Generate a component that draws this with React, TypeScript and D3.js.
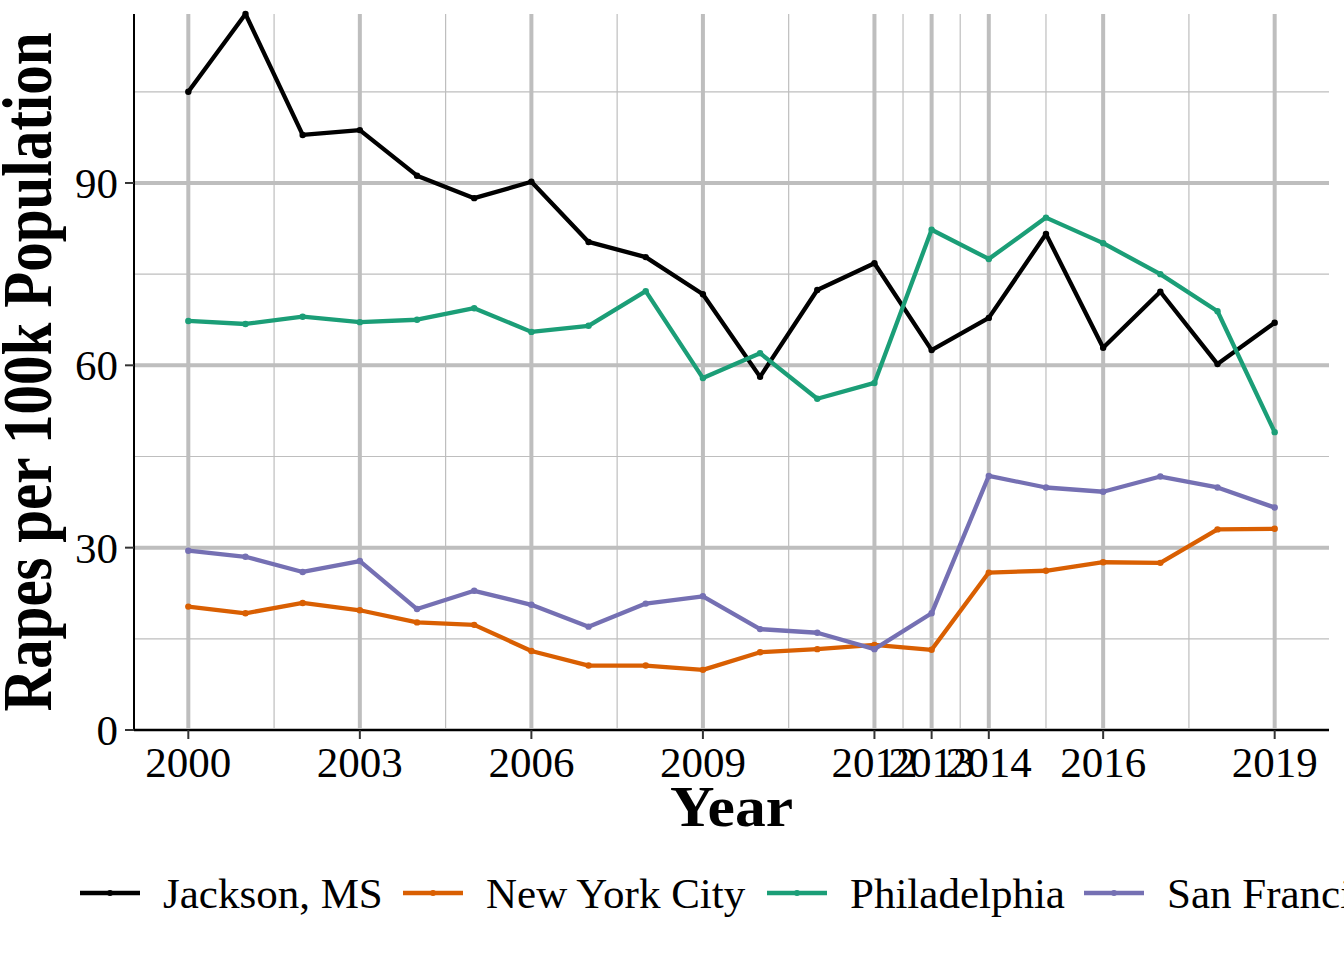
import React from 'react'
import * as d3 from 'd3'

const years = [2000, 2001, 2002, 2003, 2004, 2005, 2006, 2007, 2008, 2009, 2010, 2011, 2012, 2013, 2014, 2015, 2016, 2017, 2018, 2019]
const jackson = [105.0, 117.8, 97.9, 98.7, 91.2, 87.5, 90.2, 80.3, 77.8, 71.7, 58.1, 72.4, 76.8, 62.5, 67.8, 81.6, 62.9, 72.1, 60.2, 67.0]
const nyc = [20.3, 19.2, 20.9, 19.7, 17.7, 17.3, 13.0, 10.6, 10.6, 9.9, 12.8, 13.3, 14.0, 13.2, 25.9, 26.2, 27.6, 27.5, 33.0, 33.1]
const philadelphia = [67.3, 66.8, 68.0, 67.1, 67.5, 69.4, 65.5, 66.5, 72.2, 57.9, 62.0, 54.5, 57.1, 82.3, 77.5, 84.3, 80.1, 75.0, 68.9, 49.0]
const sanFrancisco = [29.5, 28.5, 26.0, 27.8, 19.9, 22.9, 20.6, 17.0, 20.8, 22.0, 16.6, 16.0, 13.3, 19.2, 41.8, 39.9, 39.2, 41.7, 39.9, 36.6]

const cityNames = ['Jackson, MS', 'New York City', 'Philadelphia', 'San Francisco']
const cityColors = ['#000000', '#d95f02', '#1b9e77', '#7570b3']
const cityValues = [jackson, nyc, philadelphia, sanFrancisco]

const xBreaks = [2000, 2003, 2006, 2009, 2012, 2013, 2014, 2016, 2019]
const yBreaks = [0, 30, 60, 90]
const yMinor = [15, 45, 75, 105]

const W = 1344
const H = 960
const margin = { left: 134, right: 15, top: 14, bottom: 230 }
const grid = '#bebebe'
const serif = '"Liberation Serif", "Times New Roman", serif'

// minor breaks sit halfway between major ones, like ggplot
const xMinor = d3.pairs(xBreaks).map(([a, b]) => (a + b) / 2)
const legendKeys = [80, 403, 767, 1084]

export default function App() {
  const x = d3.scaleLinear().domain([1999.05, 2019.95]).range([margin.left, W - margin.right])
  const y = d3.scaleLinear().domain([0, 117.8]).range([H - margin.bottom, margin.top])
  const line = d3.line<number>().x((d, i) => x(years[i])).y(d => y(d))
  const x0 = margin.left
  const x1 = W - margin.right
  const y0 = H - margin.bottom
  const y1 = margin.top

  return (
    <svg width={W} height={H} style={{ position: 'absolute', left: 0, top: 0, background: '#fff' }}>
      <rect width={W} height={H} fill="#fff" />
      {/* grid */}
      {yMinor.map(v => <line key={'ym' + v} x1={x0} x2={x1} y1={y(v)} y2={y(v)} stroke={grid} strokeWidth={1.2} />)}
      {xMinor.map(v => <line key={'xm' + v} x1={x(v)} x2={x(v)} y1={y0} y2={y1} stroke={grid} strokeWidth={1.2} />)}
      {yBreaks.map(v => <line key={'y' + v} x1={x0} x2={x1} y1={y(v)} y2={y(v)} stroke={grid} strokeWidth={4} />)}
      {xBreaks.map(v => <line key={'x' + v} x1={x(v)} x2={x(v)} y1={y0} y2={y1} stroke={grid} strokeWidth={4} />)}

      {/* series */}
      {cityValues.map((vals, k) => (
        <g key={cityNames[k]}>
          <path d={line(vals) || ''} fill="none" stroke={cityColors[k]} strokeWidth={4.3} strokeLinejoin="round" />
          {vals.map((v, i) => <circle key={i} cx={x(years[i])} cy={y(v)} r={3.2} fill={cityColors[k]} />)}
        </g>
      ))}

      {/* axes */}
      <line x1={x0} x2={x0} y1={y1} y2={y0 + 1} stroke="#000" strokeWidth={2} />
      <line x1={x0 - 1} x2={x1} y1={y0} y2={y0} stroke="#000" strokeWidth={2} />
      {yBreaks.map(v => (
        <g key={'yt' + v}>
          <line x1={x0 - 9} x2={x0} y1={y(v)} y2={y(v)} stroke="#333" strokeWidth={2} />
          <text x={x0 - 16} y={y(v)} dy="0.35em" textAnchor="end" fontFamily={serif} fontSize={43} fill="#000">{v}</text>
        </g>
      ))}
      {xBreaks.map(v => (
        <g key={'xt' + v}>
          <line x1={x(v)} x2={x(v)} y1={y0} y2={y0 + 9} stroke="#333" strokeWidth={2} />
          <text x={x(v)} y={y0 + 47} textAnchor="middle" fontFamily={serif} fontSize={43} fill="#000">{v}</text>
        </g>
      ))}

      {/* titles */}
      <text transform={`translate(${(x0 + x1) / 2}, 826) scale(1.1, 1)`} textAnchor="middle" fontFamily={serif} fontWeight="bold" fontSize={56} fill="#000">Year</text>
      <text transform={`translate(51, ${(y0 + y1) / 2}) rotate(-90) scale(1, 1.18)`} textAnchor="middle" fontFamily={serif} fontWeight="bold" fontSize={59} fill="#000">Rapes per 100k Population</text>

      {/* legend */}
      {cityNames.map((name, k) => (
        <g key={'lg' + name} transform={`translate(${legendKeys[k]}, 893)`}>
          <line x1={0} x2={60} y1={0} y2={0} stroke={cityColors[k]} strokeWidth={4.5} />
          <circle cx={30} cy={0} r={3} fill={cityColors[k]} />
          <text x={83} y={0} dy="0.35em" fontFamily={serif} fontSize={43} fill="#000">{name}</text>
        </g>
      ))}
    </svg>
  )
}
